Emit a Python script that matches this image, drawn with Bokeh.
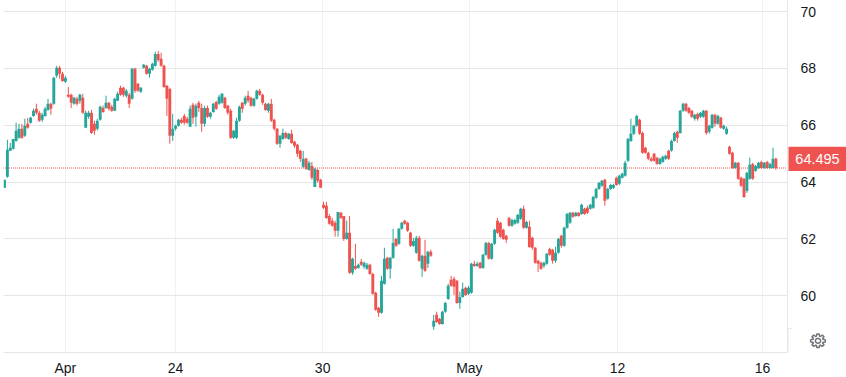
import math
from bokeh.embed import file_html
from bokeh.layouts import row
from bokeh.resources import INLINE
from bokeh.core.properties import value
from bokeh.models import ColumnDataSource, FixedTicker, LinearAxis, Range1d
from bokeh.plotting import figure

opens = [
63.80,64.19,65.10,65.17,65.45,65.56,65.88,65.63,66.05,66.09,
66.33,66.58,66.44,66.19,66.33,66.54,66.76,66.76,67.74,68.02,
67.81,67.53,67.07,67.07,66.76,66.93,66.86,66.97,65.91,66.30,
66.44,66.05,65.88,66.19,66.61,66.61,66.79,66.65,66.51,66.86,
67.32,67.32,67.04,67.07,66.93,67.99,67.46,67.18,68.02,68.09,
67.81,67.95,68.09,68.51,68.34,68.09,67.39,67.28,65.63,65.88,
65.98,66.19,66.33,66.23,65.95,66.72,66.30,66.79,66.61,66.05,
66.61,66.30,66.47,66.82,66.76,66.79,66.97,66.69,66.51,65.56,
65.56,66.16,66.79,66.76,67.04,66.97,66.69,66.93,67.21,67.07,
66.76,66.51,66.76,66.19,65.88,65.35,65.52,65.73,65.52,65.70,
65.42,65.31,65.10,64.54,64.82,64.43,64.57,63.83,64.43,64.08,
63.20,63.17,62.81,62.64,62.57,62.29,62.92,62.81,62.00,62.22,
60.81,61.05,60.98,61.20,61.02,60.95,61.09,60.77,60.11,59.58,
59.40,60.42,61.34,60.95,61.34,62.00,61.83,62.36,62.64,62.57,
62.22,61.76,61.51,62.04,60.95,61.41,61.13,61.55,58.91,59.33,
59.19,59.01,59.44,59.89,60.56,60.60,60.53,59.75,59.96,60.28,
60.07,60.11,61.13,61.05,61.16,60.98,61.44,61.86,61.30,61.83,62.64,
62.57,62.32,62.11,62.74,62.46,62.53,62.57,62.71,63.06,62.39,
62.43,62.04,61.69,61.23,61.16,61.05,61.13,61.65,61.62,61.23,
61.51,62.11,61.76,62.39,62.57,62.92,62.81,62.92,62.88,63.06,63.10,
63.06,63.10,63.45,63.76,63.87,64.08,63.41,63.76,63.80,64.15,
63.94,64.15,64.22,64.75,65.45,65.70,65.98,66.19,65.73,65.21,
65.03,64.82,65.00,64.86,64.64,64.71,64.82,65.10,65.10,65.45,65.77,
65.73,66.51,66.76,66.61,66.51,66.23,66.40,66.30,66.30,66.51,
65.77,65.91,66.37,66.05,66.26,65.88,65.70,65.24,65.03,64.50,64.68,
64.15,64.12,63.69,64.12,64.64,64.40,64.50,64.71,64.50,64.71,
64.50,64.50,64.82]
highs = [
64.08,65.49,65.38,65.52,66.09,66.05,66.05,66.23,66.26,66.30,
66.58,66.76,66.51,66.44,66.65,66.93,66.79,67.71,68.09,68.09,
67.88,67.74,67.35,67.11,67.00,67.00,67.11,67.11,66.51,66.51,
66.54,66.16,66.23,66.69,66.69,67.04,66.82,66.72,66.97,67.18,
67.39,67.35,67.28,67.14,68.02,68.02,67.49,67.35,68.16,68.13,
68.02,68.20,68.59,68.62,68.55,68.13,67.42,67.32,66.40,66.02,
66.23,66.26,66.40,66.30,66.69,66.79,66.76,66.86,66.76,66.69,
66.69,66.47,66.79,66.86,67.07,67.14,67.00,66.72,66.58,65.84,
66.26,66.69,66.82,67.04,67.21,67.00,66.97,67.25,67.28,67.11,
66.79,66.79,66.93,66.23,65.91,65.66,65.88,65.77,65.73,65.84,
65.45,65.35,65.14,65.10,64.86,64.75,64.71,64.50,64.47,64.12,
63.31,63.31,62.88,62.74,62.64,62.95,62.95,62.81,62.64,62.81,
61.34,61.83,61.13,61.30,61.20,61.16,61.13,60.81,60.14,59.61,
60.70,61.69,61.37,61.37,62.36,62.04,62.39,62.60,62.67,62.60,
62.25,62.04,62.11,62.11,61.44,61.97,61.58,61.62,59.33,59.44,
59.22,59.47,59.79,60.42,60.70,60.67,60.56,60.14,60.46,60.32,
60.35,61.16,61.23,61.20,61.20,61.48,61.90,61.90,61.86,62.36,62.74,
62.60,62.36,62.15,62.78,62.71,62.71,62.88,63.10,63.17,62.64,
62.64,62.08,61.72,61.27,61.20,61.20,61.51,61.69,61.65,61.72,
62.04,62.15,62.43,62.92,62.95,62.95,62.95,62.95,63.24,63.10,63.17,
63.24,63.52,63.80,64.01,64.08,64.12,63.80,63.94,63.94,64.19,
64.26,64.33,64.75,65.56,66.23,66.02,66.37,66.23,65.77,65.24,
65.07,64.89,65.03,64.89,64.86,64.93,64.96,65.14,65.49,65.77,65.81,
66.54,66.79,66.79,66.65,66.54,66.40,66.44,66.47,66.54,66.54,
66.02,66.40,66.40,66.37,66.30,66.02,65.95,65.28,65.07,64.71,64.71,
64.19,64.15,64.36,64.86,64.68,64.61,64.71,64.75,64.71,64.75,
64.68,65.21,64.86]
lows = [
63.80,64.15,65.10,65.14,65.42,65.52,65.52,65.59,65.88,66.05,
66.30,66.37,66.12,66.12,66.30,66.51,66.37,66.72,67.67,67.64,
67.53,67.49,66.97,66.61,66.72,66.69,66.76,66.40,65.91,66.23,
65.70,65.66,65.81,66.16,66.44,66.58,66.51,66.47,66.51,66.86,
67.04,67.00,66.97,66.61,66.90,67.14,67.18,67.14,67.99,67.78,
67.67,67.92,68.06,68.23,68.06,67.32,66.33,65.35,65.45,65.81,
65.95,66.05,66.02,66.05,65.95,66.05,65.95,66.47,65.77,65.95,
66.26,66.23,66.44,66.54,66.72,66.76,66.58,66.37,65.52,65.52,
65.52,66.12,66.44,66.69,66.79,66.65,66.65,66.90,67.04,66.72,
66.51,66.44,66.12,65.81,65.31,65.21,65.49,65.52,65.49,65.35,
65.21,64.89,64.71,64.50,64.43,64.40,64.08,63.83,63.98,63.80,
63.06,62.71,62.50,62.43,62.08,62.08,62.71,61.93,61.97,60.77,
60.74,60.91,60.95,61.05,60.95,60.91,60.74,60.03,59.47,59.26,
59.37,60.39,60.91,60.60,61.30,61.72,61.79,62.32,62.50,62.25,
61.72,61.72,61.48,61.20,60.67,60.84,60.98,61.37,58.80,59.05,
58.98,58.98,59.40,59.86,60.32,60.03,59.72,59.54,59.93,60.00,
60.03,60.07,61.02,61.02,60.95,60.95,61.41,61.27,61.27,61.79,62.18,
62.04,61.97,61.86,62.43,62.43,62.50,62.53,62.67,62.36,62.36,
61.69,61.62,61.13,60.84,60.91,60.98,61.09,61.41,61.13,61.16,
61.48,61.69,61.72,62.36,62.53,62.74,62.78,62.78,62.85,62.85,62.88,
63.03,63.06,63.41,63.73,63.83,63.17,63.38,63.73,63.76,63.87,
63.90,64.12,64.19,64.71,65.42,65.66,65.95,65.66,65.00,65.00,
64.78,64.71,64.71,64.61,64.61,64.68,64.78,64.78,65.07,65.42,65.38,
65.70,66.47,66.47,66.40,66.26,66.16,66.16,66.26,66.26,65.66,
65.70,65.88,65.95,66.02,65.88,65.84,65.66,64.96,64.47,64.47,64.08,
63.83,63.45,63.62,64.08,64.08,64.36,64.47,64.47,64.47,64.47,
64.47,64.47,64.43]
closes = [
64.08,65.14,65.21,65.52,65.81,65.88,65.56,65.98,65.91,66.26,
66.51,66.44,66.16,66.37,66.58,66.76,66.58,67.67,68.02,67.81,
67.56,67.67,67.00,66.79,66.97,66.76,67.07,66.44,66.44,66.44,
65.73,65.81,66.16,66.65,66.47,66.79,66.58,66.51,66.93,67.11,
67.07,67.07,67.21,66.76,67.99,67.21,67.21,67.32,68.13,67.81,
67.99,68.16,68.51,68.30,68.09,67.35,66.93,65.63,65.88,65.98,
66.19,66.09,66.09,66.09,66.58,66.26,66.69,66.61,66.05,66.61,
66.30,66.44,66.76,66.58,67.00,67.11,66.61,66.44,65.56,65.81,
66.16,66.65,66.58,66.97,66.86,66.69,66.93,67.21,67.07,66.79,
66.54,66.76,66.16,65.88,65.35,65.63,65.73,65.56,65.70,65.38,
65.28,65.00,64.82,64.82,64.47,64.68,64.15,64.47,64.05,63.80,
63.10,62.74,62.53,62.46,62.29,62.95,62.74,62.00,62.22,60.81,
61.30,60.95,61.09,61.09,61.16,61.09,60.77,60.07,59.51,59.40,
60.53,61.30,60.95,61.34,61.86,61.76,62.36,62.57,62.53,62.29,
61.76,61.93,62.04,61.23,61.41,60.88,61.55,61.41,59.12,59.08,
59.01,59.44,59.75,60.35,60.35,60.32,59.75,59.96,60.25,60.03,
60.28,61.13,61.05,61.13,60.98,61.44,61.86,61.30,61.83,62.32,62.22,
62.08,62.00,61.97,62.46,62.67,62.67,62.85,63.06,62.39,62.60,
61.72,61.69,61.16,61.13,60.95,61.16,61.48,61.44,61.23,61.51,
62.00,61.76,62.39,62.88,62.92,62.78,62.92,62.81,63.20,62.88,62.92,
63.20,63.48,63.76,63.97,64.05,63.34,63.76,63.90,63.90,63.90,
64.22,64.29,64.68,65.52,65.70,65.98,66.33,65.70,65.03,65.03,
64.82,64.75,64.75,64.64,64.82,64.89,64.93,64.82,65.45,65.73,65.56,
66.51,66.76,66.51,66.44,66.30,66.37,66.23,66.44,66.51,65.73,
65.98,66.37,66.05,66.33,65.91,65.98,65.88,65.00,64.50,64.68,64.12,
63.87,63.48,64.33,64.61,64.12,64.57,64.68,64.50,64.68,64.50,
64.64,64.82,64.495]

x_ticks = [21, 59, 109.7, 160.3, 211.4, 261.4]
x_labels = ["Apr", "24", "30", "May", "12", "16"]
y_ticks = [60, 62, 64, 66, 68, 70]
last_price = 64.495

UP = "#26a69a"
DOWN = "#ef5350"
GRID = "#e6e6e6"
VGRID = "#f0f1f4"
TXT = "#131722"
FONT = "Liberation Sans"

idx = list(range(len(closes)))
colors = [UP if c >= o else DOWN for o, c in zip(opens, closes)]
src = ColumnDataSource(dict(x=idx, o=opens, h=highs, l=lows, c=closes, col=colors))

x_start, x_end = -0.345, 270.0
p = figure(frame_width=784, frame_height=352, min_border_left=3, min_border_top=0,
           min_border_right=59, min_border_bottom=25,
           x_range=Range1d(x_start, x_end), y_range=Range1d(58.004, 70.39),
           x_axis_location=None, y_axis_location=None,
           output_backend="svg", toolbar_location=None)
p.margin = (0, 0, 0, 0)
p.outline_line_color = None
p.background_fill_color = "white"
p.border_fill_color = "white"

xa = LinearAxis(ticker=FixedTicker(ticks=x_ticks),
                major_label_overrides=dict(zip(x_ticks, x_labels)))
ya = LinearAxis(ticker=FixedTicker(ticks=y_ticks))
for a in (xa, ya):
    a.axis_line_color = GRID
    a.major_tick_line_color = None
    a.minor_tick_line_color = None
    a.major_label_text_font = FONT
    a.major_label_text_font_size = "14px"
    a.major_label_text_color = TXT
xa.major_label_standoff = 1
ya.major_label_standoff = 7
p.add_layout(xa, "below")
p.add_layout(ya, "right")

p.xgrid.ticker = FixedTicker(ticks=x_ticks)
p.ygrid.ticker = FixedTicker(ticks=y_ticks)
p.xgrid.grid_line_color = VGRID
p.ygrid.grid_line_color = GRID
p.xgrid.grid_line_width = 1
p.ygrid.grid_line_width = 1

p.line([x_start - 0.1724, x_end], [last_price, last_price], line_color=DOWN, line_width=1,
       line_dash="1 1")
p.segment("x", "h", "x", "l", source=src, color="col", line_width=1)
p.vbar(x="x", width=1.0, top="o", bottom="c", source=src, fill_color="col", line_color=None)

# transparent strip laid over the price-scale area: last-price tag, scale foot, settings gear
side = figure(width=59, height=377, min_border=0, x_range=Range1d(787, 846), y_range=Range1d(377, 0),
              x_axis_location=None, y_axis_location=None, output_backend="svg", toolbar_location=None)
side.margin = (0, 0, 0, -59)
side.outline_line_color = None
side.background_fill_alpha = 0
side.border_fill_alpha = 0
side.grid.visible = False
side.segment([787.5, 787], [352, 352.5], [787.5, 792], [377, 352.5], line_color=GRID, line_width=1)
side.quad(left=[788], right=[846], top=[157], bottom=[183], fill_color=DOWN, line_color=None)
side.text([817], [170.5], text=[f"{last_price:.3f}"], text_color="white", text_font=value(FONT),
          text_font_size="14.5px", text_align="center", text_baseline="middle")
cx, cy = 817.5, 365.5
gx, gy = [], []
for k in range(8):
    a0 = k * math.pi / 4
    for da, r in ((-0.30, 5.2), (-0.17, 7.4), (0.17, 7.4), (0.30, 5.2)):
        gx.append(cx + r * math.cos(a0 + da))
        gy.append(cy + r * math.sin(a0 + da))
hx = [cx + 2.6 * math.cos(t * math.pi / 10) for t in range(20)]
hy = [cy + 2.6 * math.sin(t * math.pi / 10) for t in range(20)]
for xs, ys in ((gx, gy), (hx, hy)):
    side.patch(xs, ys, fill_alpha=0, line_color="#6f7378", line_width=1.5)

layout = row(p, side, margin=0)
open("out.html", "w").write(file_html(layout, INLINE))
